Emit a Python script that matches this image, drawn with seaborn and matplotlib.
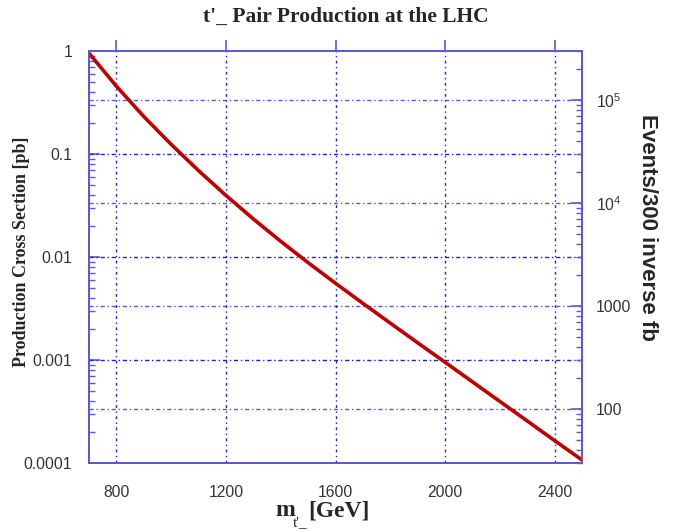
import numpy as np
import pandas as pd
import matplotlib
matplotlib.use("Agg")
import matplotlib.pyplot as plt
import seaborn as sns
from matplotlib.ticker import LogLocator, FixedLocator, NullFormatter, FixedFormatter

mass = [700, 800, 900, 1000, 1100, 1200, 1300, 1400, 1500, 1600, 1700,
        1800, 1900, 2000, 2100, 2200, 2300, 2400, 2500]
xsec = [0.951, 0.455, 0.231, 0.124, 0.0689, 0.0396, 0.0234, 0.0142, 0.00881,
        0.00556, 0.00355, 0.00228, 0.00147, 0.000951, 0.000614, 0.000396,
        0.000256, 0.000165, 0.000107]
lumi_factor = 3.0e5  # events per pb for 300 fb^-1
x_ticks = [800, 1200, 1600, 2000, 2400]
left_ticks = [1, 0.1, 0.01, 0.001, 0.0001]
left_labels = ["1", "0.1", "0.01", "0.001", "0.0001"]
right_ticks = [100, 1000, 1e4, 1e5]
right_labels = ["100", "1000", "$10^4$", "$10^5$"]

sns.set_style("white")
plt.rcParams["font.family"] = ["Liberation Sans", "DejaVu Sans"]
plt.rcParams["mathtext.fontset"] = "custom"
plt.rcParams["mathtext.rm"] = "Liberation Sans"

spine_c = "#5a5ad2"
grid_c = "#2222cc"
lab_c = "#333333"

df = pd.DataFrame({"mass": mass, "xsec": xsec})

fig = plt.figure(figsize=(6.79, 5.31), dpi=100)
ax = fig.add_axes([89/679, 68/531, (582-89)/679, (463-51)/531])
sns.lineplot(data=df, x="mass", y="xsec", ax=ax, color="#c00000", lw=2.6, zorder=5)
ax.set_yscale("log")
ax.set_xlim(700, 2500)
ax.set_ylim(1e-4, 1)

ax2 = ax.twinx()
ax2.set_yscale("log")
ax2.set_ylim(1e-4 * lumi_factor, 1 * lumi_factor)

# grid
for xv in x_ticks:
    ax.axvline(xv, color=grid_c, lw=1.0, ls=(0, (2, 2.5, 1, 2.5)), zorder=1)
for yv in [0.1, 0.01, 0.001]:
    ax.axhline(yv, color=grid_c, lw=1.0, ls=(0, (3, 2, 1, 2)), zorder=1)
for yv in right_ticks:
    ax.axhline(yv / lumi_factor, color=grid_c, lw=1.0, ls=(0, (3, 2, 1, 2)), alpha=0.75, zorder=1)

ax.set_xticks(x_ticks)
ax.set_xticklabels([str(v) for v in x_ticks])
ax.yaxis.set_major_locator(FixedLocator(left_ticks))
ax.yaxis.set_major_formatter(FixedFormatter(left_labels))
ax.yaxis.set_minor_locator(LogLocator(base=10, subs=np.arange(2, 10), numticks=20))
ax.yaxis.set_minor_formatter(NullFormatter())

ax2.yaxis.set_major_locator(FixedLocator(right_ticks))
ax2.yaxis.set_major_formatter(FixedFormatter(right_labels))
ax2.yaxis.set_minor_locator(LogLocator(base=10, subs=np.arange(2, 10), numticks=20))
ax2.yaxis.set_minor_formatter(NullFormatter())

ax.tick_params(axis="x", which="major", direction="out", length=8, width=1.2,
               color=spine_c, top=True, labelsize=11.3, pad=8, labelcolor=lab_c)
ax.tick_params(axis="y", which="major", direction="in", length=8, width=1.2,
               color=spine_c, labelsize=11.3, pad=12, labelcolor=lab_c)
ax.tick_params(axis="y", which="minor", direction="in", length=4, width=1.0, color=spine_c)
ax2.tick_params(axis="y", which="major", direction="in", length=8, width=1.2,
                color=spine_c, labelsize=11.3, pad=10, labelcolor=lab_c)
ax2.tick_params(axis="y", which="minor", direction="in", length=4, width=1.0, color=spine_c)

for a in (ax, ax2):
    for s in a.spines.values():
        s.set_color(spine_c)
        s.set_linewidth(1.3)
ax.set_xlabel("")
ax.set_ylabel("")

fig.text(346/679, 1 - 17/531, "t'_ Pair Production at the LHC", ha="center", va="center",
         family="Liberation Serif", weight="bold", fontsize=15.5)
fig.text(22/679, 1 - 252/531, "Production Cross Section [pb]", ha="center", va="center",
         rotation=90, family="Liberation Serif", weight="bold", fontsize=13)
fig.text(647/679, 1 - 227/531, "Events/300 inverse fb", ha="center", va="center",
         rotation=270, family="Liberation Sans", weight="bold", fontsize=16)
# x-axis label: m with subscript t'_ , then [GeV]
fig.text(275/679, 1 - 516/531, "m", ha="left", va="baseline",
         family="Liberation Serif", weight="bold", fontsize=17)
fig.text(293/679, 1 - 526/531, "t'_", ha="left", va="baseline",
         family="Liberation Serif", fontsize=11)
fig.text(308/679, 1 - 516/531, "[GeV]", ha="left", va="baseline",
         family="Liberation Serif", weight="bold", fontsize=17)

fig.savefig("out.png", dpi=100)
